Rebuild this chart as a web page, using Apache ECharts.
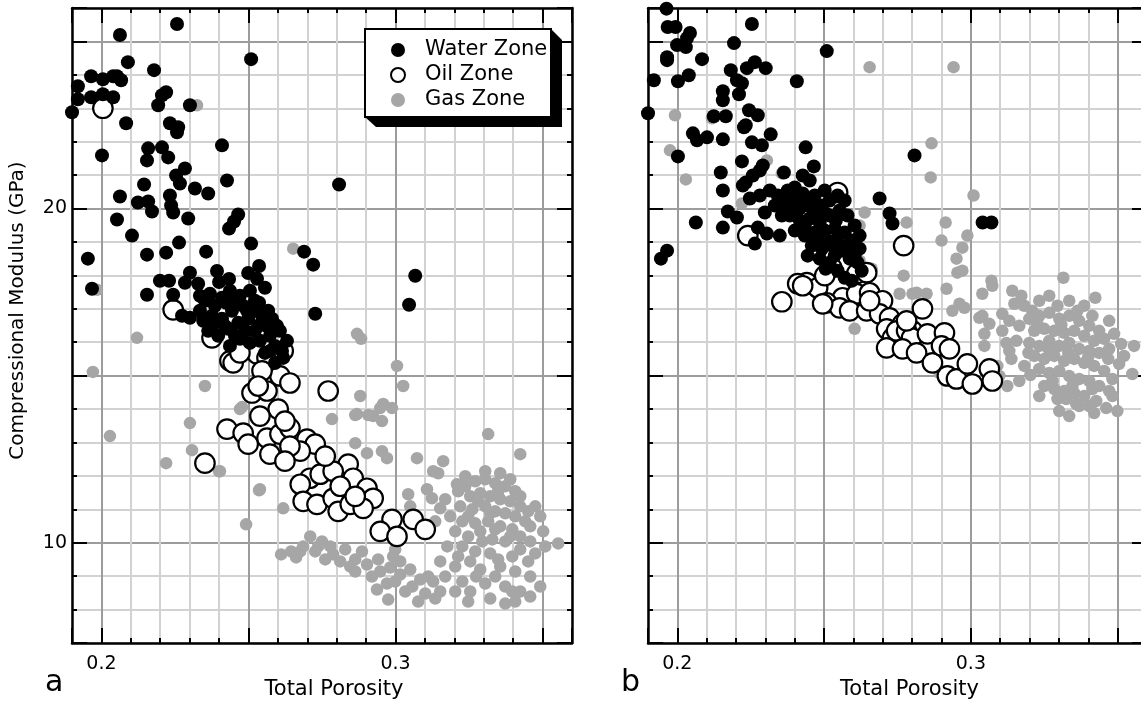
<!DOCTYPE html>
<html>
<head>
<meta charset="utf-8">
<title>Compressional Modulus vs Total Porosity</title>
<script src="https://cdn.jsdelivr.net/npm/echarts@6/dist/echarts.min.js"></script>
<style>
  html, body { margin: 0; padding: 0; background: #fff; }
  #chart { width: 1141px; height: 704px; }
</style>
</head>
<body>
<div id="chart"></div>
<script>
// Axis ranges and labelled tick values
const xRange = [0.19, 0.36];
const yRange = [7, 26];
const xLabelValues = [0.2, 0.3];
const yLabelValues = [10, 20];
const panelLetters = ['a', 'b'];
const zoneNames = ['Water Zone', 'Oil Zone', 'Gas Zone'];

// Panel a: [total porosity, compressional modulus (GPa)]
const waterA = [
  [0.190,22.88],[0.192,23.66],[0.192,23.27],[0.1965,23.96],[0.1965,23.33],[0.2005,23.87],[0.2005,23.42],[0.204,23.96],
  [0.204,23.33],[0.2053,23.96],[0.2067,23.84],[0.2084,22.55],[0.2002,21.59],[0.2206,23.39],[0.222,23.48],[0.2193,23.09],
  [0.2301,23.09],[0.2233,22.55],[0.2261,22.43],[0.2257,22.28],[0.241,21.89],[0.2159,21.80],[0.2206,21.83],[0.2155,21.44],
  [0.2227,21.53],[0.2284,21.20],[0.2254,20.99],[0.2427,20.84],[0.2145,20.72],[0.2267,20.75],[0.2318,20.60],[0.2363,20.45],
  [0.2063,20.36],[0.2233,20.39],[0.2124,20.18],[0.2159,20.21],[0.2172,19.91],[0.2237,20.09],[0.2244,19.88],[0.2295,19.70],
  [0.2053,19.67],[0.2434,19.40],[0.2451,19.61],[0.2465,19.82],[0.2104,19.19],[0.2264,18.98],[0.2509,18.95],[0.2063,25.19],
  [0.2090,24.38],[0.2179,24.14],[0.2257,25.52],[0.2509,24.47],[0.1954,18.50],[0.1968,17.60],[0.2808,20.72],[0.3067,17.99],
  [0.3046,17.12],[0.2155,18.62],[0.222,18.68],[0.2356,18.71],[0.2536,18.28],[0.2499,18.07],[0.2393,18.13],[0.240,17.80],
  [0.2434,17.89],[0.2689,18.71],[0.2720,18.32],[0.2301,18.08],[0.2284,17.78],[0.2199,17.84],[0.223,17.84],[0.2155,17.42],
  [0.2244,17.42],[0.2329,17.75],[0.2369,17.45],[0.2529,17.90],[0.2556,17.63],[0.2536,17.18],[0.2727,16.85],[0.2274,16.79],
  [0.2301,16.73],[0.2346,16.64],[0.2614,15.74],[0.2352,17.24],[0.2386,17.09],[0.241,17.33],[0.2437,17.54],[0.2471,17.39],
  [0.2505,17.54],[0.2376,16.79],[0.241,16.70],[0.2444,16.94],[0.2482,17.09],[0.2522,17.24],[0.2546,16.79],[0.2363,16.34],
  [0.2397,16.19],[0.2431,16.40],[0.2465,16.58],[0.2499,16.70],[0.2522,16.34],[0.256,16.49],[0.2471,16.10],[0.2505,15.98],
  [0.2539,16.04],[0.2573,16.19],[0.259,15.89],[0.2556,15.68],[0.2618,15.53],[0.259,15.38],[0.2437,15.89],[0.2488,16.34],
  [0.258,16.70],[0.2607,16.34],[0.2335,16.94],[0.2335,17.39],[0.2424,17.18],[0.2458,17.24],[0.2495,16.94],[0.2526,16.94],
  [0.2567,16.94],[0.2386,16.58],[0.242,16.49],[0.2454,16.19],[0.2533,16.49],[0.2597,16.49],[0.2631,16.04],[0.2573,15.74]
];
const oilA = [
  [0.2005,23.00],[0.2244,16.97],[0.2376,16.13],[0.2437,15.44],[0.2488,15.83],[0.2529,15.65],[0.2563,15.53],[0.2448,15.38],
  [0.2607,14.99],[0.2641,14.78],[0.2512,14.48],[0.2563,14.54],[0.2618,15.74],[0.2771,14.54],[0.2601,14.00],[0.2427,13.40],
  [0.2482,13.28],[0.2499,12.95],[0.2563,13.13],[0.2607,13.25],[0.2641,13.43],[0.2699,13.10],[0.2727,12.95],[0.2573,12.65],
  [0.2676,12.74],[0.2352,12.38],[0.2709,11.93],[0.2744,12.05],[0.2676,11.75],[0.2839,12.35],[0.2856,11.93],[0.2788,12.14],
  [0.2903,11.63],[0.2924,11.33],[0.2686,11.24],[0.2733,11.15],[0.2788,11.33],[0.2805,10.94],[0.2846,11.15],[0.289,11.03],
  [0.2988,10.70],[0.306,10.70],[0.2948,10.34],[0.3005,10.19],[0.3101,10.40],[0.2624,13.64],[0.2539,13.79],[0.2641,12.89],
  [0.2761,12.59],[0.2624,12.44],[0.2812,11.69],[0.2863,11.39],[0.2471,15.68],[0.2546,15.14],[0.2533,14.69]
];
const gasA = [
  [0.1985,17.57],[0.1971,15.11],[0.2029,13.19],[0.222,12.38],[0.2301,13.58],[0.2308,12.77],[0.24,12.14],[0.2536,11.57],
  [0.2618,11.03],[0.2492,10.55],[0.2611,9.65],[0.2645,9.74],[0.2662,9.56],[0.2478,14.06],[0.2121,16.13],[0.2325,23.09],
  [0.2652,18.80],[0.2869,16.25],[0.2883,16.10],[0.2352,14.69],[0.2471,14.00],[0.3005,15.29],[0.3026,14.69],[0.288,14.39],
  [0.2869,13.85],[0.2924,13.79],[0.2958,14.15],[0.2988,14.03],[0.2954,13.64],[0.2784,13.70],[0.2863,12.98],[0.2903,12.68],
  [0.2954,12.74],[0.2971,12.53],[0.3073,12.53],[0.3128,12.14],[0.2403,12.14],[0.2539,11.60],[0.2863,13.82],[0.2907,13.82],
  [0.2948,14.03],[0.3315,13.25],[0.3424,12.65],[0.3162,12.44],[0.3145,12.08],[0.3209,11.75],[0.3043,11.45],[0.3107,11.60],
  [0.3124,11.33],[0.3169,11.30],[0.3152,11.03],[0.305,11.09],[0.3135,10.64],
  [0.3237,11.69],[0.3271,11.84],[0.3305,11.90],[0.3339,11.78],[0.3373,11.69],[0.3407,11.54],[0.3254,11.39],[0.3288,11.48],
  [0.3322,11.39],[0.3356,11.30],[0.339,11.24],[0.3424,11.09],[0.3451,10.94],[0.322,11.09],[0.3261,11.00],[0.3305,11.09],
  [0.3339,10.94],[0.3373,10.88],[0.3407,10.79],[0.3441,10.64],[0.3186,10.79],[0.3227,10.64],[0.3271,10.58],[0.3315,10.64],
  [0.3356,10.49],[0.3397,10.40],[0.3458,10.49],[0.3502,10.34],[0.3553,9.98],[0.3203,10.34],[0.3247,10.19],[0.3288,10.34],
  [0.3329,10.10],[0.3373,10.04],[0.3424,10.19],[0.3458,10.04],[0.3227,9.89],[0.3271,9.74],[0.3322,9.68],[0.3424,9.80],
  [0.3475,9.68],[0.3254,9.44],[0.3288,9.20],[0.3356,9.29],[0.3407,9.14],[0.3458,8.99],[0.3227,8.84],[0.3305,8.78],
  [0.3373,8.69],[0.3424,8.54],[0.3322,8.33],[0.3373,8.18],[0.3458,8.39],[0.3176,9.89],[0.3152,9.44],[0.3169,8.99],
  [0.3254,8.54],[0.3203,9.29],
  [0.3213,11.54],[0.3281,11.24],[0.3349,11.54],[0.339,11.90],[0.3247,10.79],[0.3322,10.88],[0.3424,11.39],[0.3475,11.09],
  [0.3492,10.79],[0.339,10.19],[0.3339,10.40],[0.3295,10.04],[0.3213,9.59],[0.3349,9.50],[0.3397,9.59],[0.3451,9.44],
  [0.3509,9.89],[0.3274,8.99],[0.3339,8.99],[0.3397,8.54],[0.3492,8.69],[0.3203,8.54],[0.3247,8.24],[0.3407,8.24],
  [0.3237,11.99],[0.3356,12.08],[0.3305,12.14],
  [0.271,10.19],[0.275,10.04],[0.2788,9.65],[0.2829,9.80],[0.2863,9.50],[0.2903,9.35],[0.2941,9.50],[0.2948,9.14],
  [0.2982,9.26],[0.3016,9.05],[0.305,9.20],[0.3057,8.69],[0.3084,8.90],[0.3128,8.84],[0.3101,8.48],[0.3135,8.33],
  [0.2937,8.60],[0.2971,8.78],[0.2686,9.89],[0.2727,9.74],[0.2992,9.59],[0.3016,9.44],[0.2846,9.29],[0.2999,9.80],
  [0.2737,9.89],[0.2778,9.89],[0.2812,9.44],[0.2886,9.74],[0.292,8.99],[0.2999,8.84],[0.3033,8.54],[0.3077,8.24],
  [0.3111,8.99],[0.3152,8.54],[0.2975,8.30],[0.2863,9.14],[0.2761,9.50],[0.2676,9.74]
];

// Panel b
const waterB = [
  [0.1963,25.98],[0.1967,25.43],[0.1994,25.43],[0.2043,25.25],[0.2033,25.10],[0.1999,24.89],[0.2029,24.83],[0.1965,24.53],
  [0.1965,24.44],[0.2084,24.47],[0.2254,25.52],[0.2193,24.95],[0.2509,24.71],[0.192,23.84],[0.2002,23.81],[0.2039,23.99],
  [0.2182,24.14],[0.2237,24.20],[0.2264,24.38],[0.2301,24.20],[0.2203,23.84],[0.222,23.75],[0.221,23.42],[0.2155,23.51],
  [0.2155,23.24],[0.2407,23.81],[0.19,22.85],[0.2124,22.76],[0.2165,22.76],[0.2244,22.94],[0.2274,22.79],[0.2233,22.49],
  [0.2227,22.43],[0.2053,22.25],[0.2067,22.04],[0.2101,22.13],[0.2155,22.07],[0.2254,21.98],[0.2288,21.89],[0.2318,22.22],
  [0.2437,21.83],[0.2002,21.56],[0.222,21.41],[0.2291,21.29],[0.2281,21.14],[0.2465,21.26],[0.2148,21.08],[0.2363,21.08],
  [0.2427,20.99],[0.2451,20.84],[0.24,20.63],[0.2233,20.78],[0.2257,20.99],[0.2155,20.54],[0.2247,20.30],[0.2223,20.69],
  [0.2063,19.58],[0.2155,19.43],[0.2172,19.91],[0.2203,19.73],[0.1965,18.74],[0.1944,18.50],[0.2689,20.30],[0.2274,19.43],
  [0.2305,19.25],[0.2264,18.95],[0.2349,19.19],[0.2723,19.85],[0.2733,19.55],[0.2808,21.59],[0.304,19.58],[0.307,19.58],
  [0.2315,20.54],[0.2342,20.39],[0.2366,20.24],[0.239,20.09],[0.2417,20.00],[0.2444,20.09],[0.2468,19.94],[0.2492,20.09],
  [0.2519,20.24],[0.2546,20.39],[0.257,20.24],[0.2383,19.79],[0.2417,19.64],[0.2451,19.70],[0.2485,19.58],[0.2519,19.79],
  [0.2553,19.94],[0.258,19.79],[0.2604,19.49],[0.24,19.34],[0.2434,19.19],[0.2468,19.28],[0.2502,19.34],[0.2536,19.40],
  [0.257,19.28],[0.2594,19.04],[0.2621,18.80],[0.2458,18.89],[0.2492,18.80],[0.2526,18.89],[0.256,18.74],[0.2587,18.50],
  [0.2614,18.38],[0.2628,18.14],[0.2485,18.50],[0.2519,18.38],[0.2546,18.14],[0.257,17.93],[0.2444,18.59],[0.2332,20.09],
  [0.2356,19.79],[0.2468,20.39],[0.2502,20.54],[0.2427,20.45],[0.2621,19.19],
  [0.2376,20.54],[0.2407,20.30],[0.2458,20.24],[0.2505,19.85],[0.254,19.64],[0.2434,19.49],[0.2478,19.10],[0.2512,19.04],
  [0.2546,19.10],[0.258,18.89],[0.2604,18.59],[0.2536,18.59],[0.2505,18.20],[0.2594,17.84],[0.2356,20.09],[0.24,19.88],
  [0.2281,20.39],[0.2298,19.88]
];
const oilB = [
  [0.2546,20.48],[0.224,19.19],[0.2771,18.89],[0.2478,18.83],[0.2441,17.78],[0.241,17.75],[0.2478,17.63],[0.2356,17.21],
  [0.2526,18.23],[0.2611,18.05],[0.2645,18.08],[0.2563,17.33],[0.2611,17.45],[0.2655,17.48],[0.2699,17.24],[0.2509,17.18],
  [0.2553,17.03],[0.2587,16.94],[0.2645,16.94],[0.2689,16.85],[0.2723,16.73],[0.2767,16.55],[0.2801,16.34],[0.2713,16.40],
  [0.2733,16.13],[0.2427,17.69],[0.2495,17.15],[0.2747,16.34],[0.2781,16.34],[0.2798,16.13],[0.2835,17.00],[0.2852,16.25],
  [0.291,16.28],[0.2713,15.83],[0.2767,15.80],[0.2815,15.68],[0.2869,15.38],[0.29,15.89],[0.2927,15.80],[0.292,14.99],
  [0.2951,14.90],[0.2988,15.35],[0.3005,14.75],[0.3063,15.20],[0.3073,14.84],[0.2781,16.64],[0.2655,17.24],[0.2502,17.99]
];
const gasB = [
  [0.1992,22.79],[0.2118,22.70],[0.1975,21.74],[0.2029,20.87],[0.222,20.15],[0.2305,21.44],[0.2356,21.05],[0.2655,24.23],
  [0.2638,19.88],[0.2621,19.49],[0.2781,19.58],[0.2621,18.44],[0.2662,18.20],[0.2771,17.99],[0.2757,17.45],[0.2801,17.45],
  [0.2604,16.40],[0.2941,24.23],[0.2866,21.95],[0.2863,20.93],[0.3009,20.39],[0.2914,19.58],[0.29,19.04],[0.2951,18.50],
  [0.2954,18.08],[0.2815,17.48],[0.2849,17.45],[0.2917,17.60],[0.2961,17.15],[0.2937,16.94],[0.3039,17.45],[0.3073,17.69],
  [0.3029,16.73],[0.3063,16.55],[0.3046,16.25],[0.2988,19.19],[0.2971,18.83],[0.2971,18.14],[0.2978,17.03],[0.307,17.84],
  [0.3141,17.54],[0.3172,17.39],[0.3148,17.15],[0.3209,16.94],[0.3315,17.93],[0.3424,17.33],[0.3039,16.79],[0.3107,16.85],
  [0.3131,16.64],[0.3165,16.49],[0.3121,15.98],[0.3046,15.89],[0.3505,15.35],[0.3550,15.05],[0.3301,13.94],[0.3359,14.15],
  [0.3427,14.24],[0.3461,14.03],[0.3556,15.89],
  [0.3199,16.70],[0.3233,16.79],[0.3267,16.88],[0.3301,16.70],[0.3335,16.79],[0.3369,16.64],[0.3403,16.49],[0.3437,16.34],
  [0.3216,16.34],[0.325,16.40],[0.3284,16.34],[0.3318,16.28],[0.3352,16.34],[0.3386,16.19],[0.342,16.04],[0.3454,16.10],
  [0.3199,15.98],[0.3233,15.89],[0.3267,16.04],[0.3301,15.89],[0.3335,15.98],[0.3369,15.80],[0.3403,15.74],[0.3437,15.68],
  [0.3471,15.80],[0.3512,15.95],[0.3216,15.59],[0.325,15.50],[0.3284,15.59],[0.3318,15.44],[0.3352,15.50],[0.3386,15.38],
  [0.342,15.29],[0.3454,15.14],[0.3233,15.20],[0.3267,15.08],[0.3301,15.14],[0.3335,14.99],[0.3369,14.90],[0.3403,14.84],
  [0.3437,14.69],[0.325,14.69],[0.3284,14.60],[0.3318,14.54],[0.3352,14.48],[0.3386,14.39],[0.3182,15.29],[0.3165,14.84],
  [0.3325,14.30],[0.3403,14.09],[0.3471,14.54],[0.3482,14.90],[0.3107,16.34],[0.3131,15.74],[0.3155,16.04],[0.3233,17.24],
  [0.3267,17.39],[0.3335,17.24],[0.3386,17.09],[0.2825,15.59],[0.2893,15.08],[0.3097,14.99],[0.3124,14.69],
  [0.3182,17.09],[0.3295,17.09],[0.3363,16.94],[0.3414,16.79],[0.3471,16.64],[0.3488,16.25],[0.3522,15.59],[0.3226,16.55],
  [0.3308,16.52],[0.3196,15.68],[0.3264,15.80],[0.3332,15.68],[0.3400,15.56],[0.3468,15.50],[0.3203,15.02],[0.3278,14.84],
  [0.3346,14.69],[0.3414,14.60],[0.3482,14.39],[0.3295,14.30],[0.3369,14.09],[0.342,13.88],[0.3499,13.94],[0.3335,13.79],
  [0.3233,14.39],[0.3138,15.50],[0.309,15.29]
];

const FONT = 'DejaVu Sans';
const MINOR_GRID = '#d2d2d2';
const MAJOR_GRID = '#9c9c9c';

function pickLabel(values) {
  return function (v) {
    for (const t of values) if (Math.abs(v - t) < 1e-9) return String(t);
    return '';
  };
}

// Four x axes and four y axes per panel: minor/major on the bottom/left, mirrored on top/right.
function panelAxes(gridIndex, withYLabels) {
  const lineStyle = { color: '#000', width: 2.5 };
  const tickStyle = { color: '#000', width: 2 };
  const xs = [
    { type: 'value', gridIndex, position: 'bottom', min: xRange[0], max: xRange[1], interval: 0.01,
      axisLine: { show: true, onZero: false, lineStyle },
      axisTick: { show: true, inside: true, length: 5, lineStyle: tickStyle },
      axisLabel: { show: false },
      splitLine: { show: true, lineStyle: { color: [MINOR_GRID, MAJOR_GRID, MINOR_GRID, MINOR_GRID, MINOR_GRID], width: 2 } } },
    { type: 'value', gridIndex, position: 'bottom', min: xRange[0], max: xRange[1], splitNumber: 4,
      axisLine: { show: false, onZero: false },
      axisTick: { show: true, inside: true, length: 15, lineStyle: tickStyle },
      axisLabel: { show: true, formatter: pickLabel(xLabelValues), color: '#000', fontSize: 19, fontFamily: FONT, margin: 12 },
      splitLine: { show: false },
      name: 'Total Porosity', nameLocation: 'middle', nameGap: 35,
      nameTextStyle: { color: '#000', fontSize: 21, fontFamily: FONT, padding: [0, 0, 0, 24] } },
    { type: 'value', gridIndex, position: 'top', min: xRange[0], max: xRange[1], interval: 0.01,
      axisLine: { show: true, onZero: false, lineStyle },
      axisTick: { show: true, inside: true, length: 5, lineStyle: tickStyle },
      axisLabel: { show: false }, splitLine: { show: false } },
    { type: 'value', gridIndex, position: 'top', min: xRange[0], max: xRange[1], splitNumber: 4,
      axisLine: { show: false, onZero: false },
      axisTick: { show: true, inside: true, length: 15, lineStyle: tickStyle },
      axisLabel: { show: false }, splitLine: { show: false } }
  ];
  const ys = [
    { type: 'value', gridIndex, position: 'left', min: yRange[0], max: yRange[1], interval: 1,
      axisLine: { show: true, onZero: false, lineStyle },
      axisTick: { show: true, inside: true, length: 5, lineStyle: tickStyle },
      axisLabel: { show: false },
      splitLine: { show: true, lineStyle: { color: [MINOR_GRID, MINOR_GRID, MINOR_GRID, MAJOR_GRID, MINOR_GRID], width: 2 } } },
    { type: 'value', gridIndex, position: 'left', min: yRange[0], max: yRange[1], splitNumber: 4,
      axisLine: { show: false, onZero: false },
      axisTick: { show: true, inside: true, length: 15, lineStyle: tickStyle },
      axisLabel: { show: withYLabels, formatter: pickLabel(yLabelValues), color: '#000', fontSize: 19, fontFamily: FONT, margin: 5 },
      splitLine: { show: false },
      name: withYLabels ? 'Compressional Modulus (GPa)' : '', nameLocation: 'middle', nameGap: 44,
      nameTextStyle: { color: '#000', fontSize: 20, fontFamily: FONT, padding: [0, 0, 0, 30] } },
    { type: 'value', gridIndex, position: 'right', min: yRange[0], max: yRange[1], interval: 1,
      axisLine: { show: true, onZero: false, lineStyle },
      axisTick: { show: true, inside: true, length: 5, lineStyle: tickStyle },
      axisLabel: { show: false }, splitLine: { show: false } },
    { type: 'value', gridIndex, position: 'right', min: yRange[0], max: yRange[1], splitNumber: 4,
      axisLine: { show: false, onZero: false },
      axisTick: { show: true, inside: true, length: 15, lineStyle: tickStyle },
      axisLabel: { show: false }, splitLine: { show: false } }
  ];
  return { xs, ys };
}

const axesA = panelAxes(0, true);
const axesB = panelAxes(1, false);

function zoneSeries(name, data, axisIndex) {
  const base = { type: 'scatter', name, data, xAxisIndex: axisIndex, yAxisIndex: axisIndex,
    silent: true, animation: false, emphasis: { disabled: true } };
  if (name === 'Water Zone') return Object.assign(base, { symbolSize: 14, itemStyle: { color: '#000', opacity: 1 } });
  if (name === 'Oil Zone') return Object.assign(base, { symbolSize: 19.5, itemStyle: { color: '#fff', borderColor: '#000', borderWidth: 2.2, opacity: 1 } });
  return Object.assign(base, { symbolSize: 12.5, itemStyle: { color: '#a6a6a6', opacity: 1 } });
}

// Legend frame: white box with a raised black block behind it
const legendBox = { x: 365, y: 29, w: 186, h: 88, depth: 11 };

const chart = echarts.init(document.getElementById('chart'), null, { renderer: 'canvas' });
chart.setOption({
  backgroundColor: '#fff',
  animation: false,
  grid: [
    { left: 72, top: 8, width: 500, height: 635, containLabel: false, outerBoundsMode: 'none' },
    { left: 648, top: 8, width: 499, height: 635, containLabel: false, outerBoundsMode: 'none' }
  ],
  xAxis: axesA.xs.concat(axesB.xs),
  yAxis: axesA.ys.concat(axesB.ys),
  legend: {
    data: zoneNames,
    orient: 'vertical',
    left: legendBox.x, top: legendBox.y,
    padding: [9, 4, 9, 25],
    icon: 'circle',
    itemWidth: 14, itemHeight: 14, itemGap: 1,
    z: 10,
    selectedMode: false,
    textStyle: { color: '#000', fontSize: 21, fontFamily: FONT, lineHeight: 24, padding: [0, 0, 0, 15] }
  },
  graphic: [
    { type: 'polygon', z: 8, silent: true,
      shape: { points: [
        [legendBox.x + legendBox.w, legendBox.y],
        [legendBox.x + legendBox.w + legendBox.depth, legendBox.y + legendBox.depth],
        [legendBox.x + legendBox.w + legendBox.depth, legendBox.y + legendBox.h + legendBox.depth - 1],
        [legendBox.x + legendBox.depth, legendBox.y + legendBox.h + legendBox.depth - 1],
        [legendBox.x, legendBox.y + legendBox.h]
      ] },
      style: { fill: '#000' } },
    { type: 'rect', z: 9, silent: true,
      shape: { x: legendBox.x, y: legendBox.y, width: legendBox.w, height: legendBox.h },
      style: { fill: '#fff', stroke: '#000', lineWidth: 2 } },
    { type: 'text', left: 45, top: 668, style: { text: panelLetters[0], font: '30px "DejaVu Sans"', fill: '#000' } },
    { type: 'text', left: 621, top: 668, style: { text: panelLetters[1], font: '30px "DejaVu Sans"', fill: '#000' } }
  ],
  series: [
    zoneSeries('Gas Zone', gasA, 0),
    zoneSeries('Oil Zone', oilA, 0),
    zoneSeries('Water Zone', waterA, 0),
    zoneSeries('Gas Zone', gasB, 4),
    zoneSeries('Oil Zone', oilB, 4),
    zoneSeries('Water Zone', waterB, 4)
  ]
});
</script>
</body>
</html>
